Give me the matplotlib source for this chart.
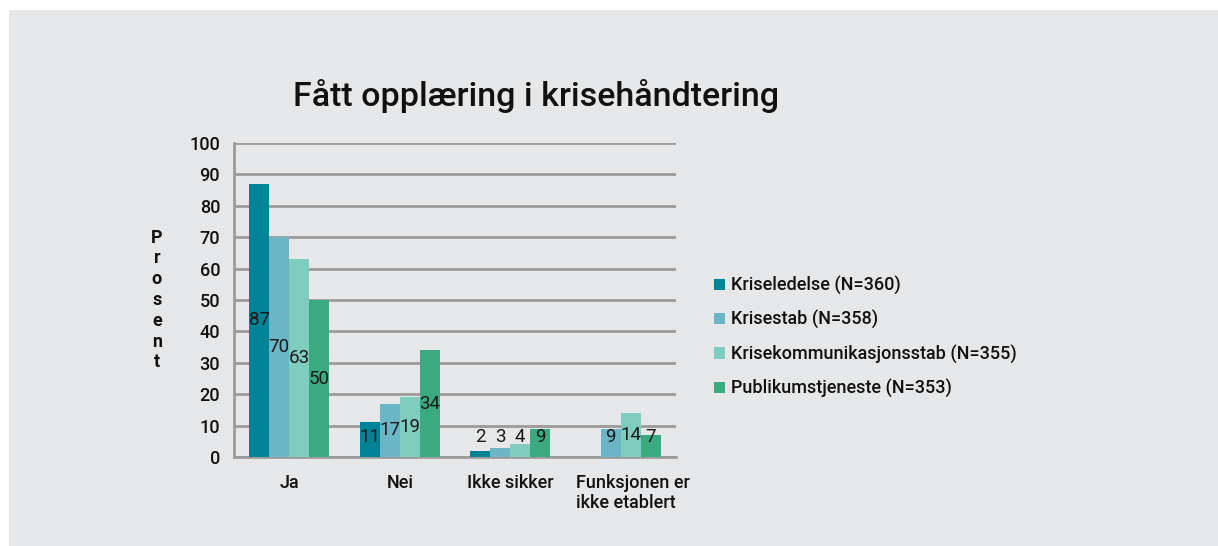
import numpy as np
import matplotlib.pyplot as plt
from matplotlib.patches import Rectangle
from matplotlib.transforms import ScaledTranslation

plt.rcParams['font.family'] = ['Roboto', 'DejaVu Sans']

categories = ['Ja', 'Nei', 'Ikke sikker', 'Funksjonen er\nikke etablert']
series_names = ['Kriseledelse (N=360)', 'Krisestab (N=358)',
                'Krisekommunikasjonsstab (N=355)', 'Publikumstjeneste (N=353)']
kriseledelse = [87, 11, 2, np.nan]
krisestab = [70, 17, 3, 9]
krisekommunikasjonsstab = [63, 19, 4, 14]
publikumstjeneste = [50, 34, 9, 7]
yticks = [0, 10, 20, 30, 40, 50, 60, 70, 80, 90, 100]

colors = ['#008396', '#6BB6C6', '#7ECDBE', '#3CAA80']
bg = '#E6E7E8'
grid_col = '#9B9B9B'

fig = plt.figure(figsize=(12.18, 5.46), dpi=100)
fig.patch.set_facecolor('white')
fig.patches.append(Rectangle((9 / 1218, 0), 1, 1 - 10 / 546, transform=fig.transFigure,
                             facecolor=bg, edgecolor='none', zorder=-10))

ax = fig.add_axes([234 / 1218, 89 / 546, 442 / 1218, 314 / 546])
ax.set_facecolor(bg)

x = np.arange(len(categories))
w = 0.181
all_series = [kriseledelse, krisestab, krisekommunikasjonsstab, publikumstjeneste]
for i, (vals, name) in enumerate(zip(all_series, series_names)):
    pos = x + (i - 1.5) * w
    ax.bar(pos, vals, width=w, color=colors[i], label=name, zorder=3,
           edgecolor='none')
    for px, v in zip(pos, vals):
        if np.isnan(v):
            continue
        ax.text(px, max(v / 2, 6.5), f'{v:g}', ha='center', va='center',
                fontsize=13.5, color='#1a1a1a', zorder=4)

ax.set_ylim(0, 100)
ax.set_xlim(-0.5, 3.5)
ax.set_yticks(yticks)
ax.set_xticks(x)
ax.set_xticklabels(categories, multialignment='left')
ax.yaxis.grid(True, color=grid_col, linewidth=2, zorder=0)
ax.tick_params(axis='both', length=0, labelsize=13, colors='#111111')
ax.tick_params(axis='y', pad=10)
ax.tick_params(axis='x', pad=12)
for lab in ax.get_xticklabels() + ax.get_yticklabels():
    lab.set_fontweight('medium')
last = ax.get_xticklabels()[-1]
last.set_transform(last.get_transform() + ScaledTranslation(12 / 100, 0, fig.dpi_scale_trans))

for s in ['top', 'right']:
    ax.spines[s].set_visible(False)
for s in ['left', 'bottom']:
    ax.spines[s].set_color(grid_col)
    ax.spines[s].set_linewidth(2)

fig.text(157 / 1218, 1 - 300 / 546, 'P\nr\no\ns\ne\nn\nt', ha='center', va='center',
         fontsize=13, fontweight='bold', linespacing=1.2, color='#111111')

fig.text(536 / 1218, 1 - 96 / 546, 'Fått opplæring i krisehåndtering', ha='center',
         va='center', fontsize=24.5, fontweight='medium', color='#111111')

leg = fig.legend(loc='center left', bbox_to_anchor=(698 / 1218, 1 - 337 / 546),
                 frameon=False, fontsize=13, handlelength=0.6, handleheight=0.6,
                 handletextpad=0.35, labelspacing=0.85)
for t in leg.get_texts():
    t.set_fontweight('medium')
    t.set_color('#111111')

fig.savefig('out.png', dpi=100, facecolor=fig.get_facecolor())
